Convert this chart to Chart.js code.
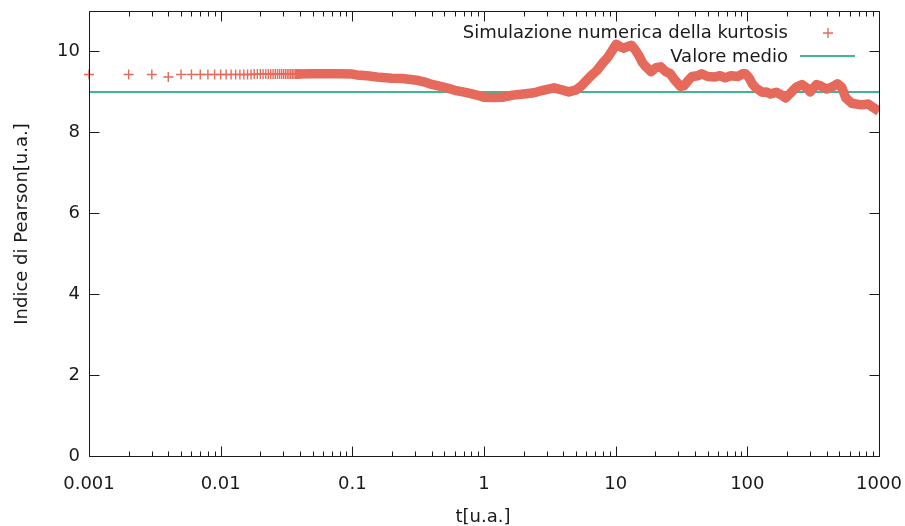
<!DOCTYPE html>
<html>
<head>
<meta charset="utf-8">
<script src="https://cdn.jsdelivr.net/npm/chart.js@4/dist/chart.umd.min.js"></script>
<style>
  html, body { margin: 0; padding: 0; background: #fff; }
  #chart { display: block; }
</style>
</head>
<body>
<canvas id="chart" width="905" height="526"></canvas>
<script>
// punti singoli all'inizio (t = 0.001 ... 0.040)
const sparseT = [0.001, 0.002, 0.003, 0.004, 0.005, 0.006, 0.007, 0.008, 0.009, 0.010,
  0.011, 0.012, 0.013, 0.014, 0.015, 0.016, 0.017, 0.018, 0.019, 0.020,
  0.021, 0.022, 0.023, 0.024, 0.025, 0.026, 0.027, 0.028, 0.029, 0.030,
  0.031, 0.032, 0.033, 0.034, 0.035, 0.036, 0.037, 0.038, 0.039, 0.040];
const sparseY = [9.43, 9.43, 9.43, 9.37, 9.43, 9.43, 9.43, 9.43, 9.43, 9.43,
  9.43, 9.43, 9.43, 9.43, 9.43, 9.43, 9.43, 9.44, 9.44, 9.44,
  9.44, 9.44, 9.44, 9.44, 9.44, 9.44, 9.44, 9.44, 9.44, 9.44,
  9.44, 9.44, 9.44, 9.44, 9.44, 9.44, 9.44, 9.44, 9.44, 9.44];

// parte densa della simulazione
const denseT = [0.037, 0.05, 0.08, 0.1, 0.108, 0.13, 0.161, 0.2, 0.24, 0.308,
  0.35, 0.387, 0.45, 0.52, 0.6, 0.74, 0.93, 1.0, 1.2, 1.4,
  1.65, 2.0, 2.4, 2.8, 3.4, 3.9, 4.4, 5.0, 5.5, 6.0,
  6.5, 7.2, 8.0, 8.7, 9.4, 10.1, 10.8, 11.5, 12.3, 13.2,
  14, 15, 16, 17, 18.6, 20.3, 22, 24, 26, 28,
  31, 33, 36, 38, 42, 45, 50, 57, 62, 68,
  75, 85, 92, 97, 103, 109, 116, 130, 140, 150,
  166, 180, 195, 210, 236, 260, 282, 300, 335, 360,
  400, 440, 483, 520, 560, 620, 670, 740, 830, 900,
  980, 1000];
const denseY = [9.44, 9.45, 9.45, 9.44, 9.42, 9.40, 9.36, 9.34, 9.33, 9.29,
  9.25, 9.20, 9.15, 9.10, 9.04, 8.98, 8.90, 8.87, 8.86, 8.87,
  8.92, 8.95, 8.98, 9.04, 9.10, 9.05, 9.00, 9.05, 9.15, 9.28,
  9.40, 9.53, 9.72, 9.85, 10.02, 10.18, 10.12, 10.08, 10.12, 10.15,
  10.05, 9.90, 9.72, 9.62, 9.50, 9.60, 9.62, 9.50, 9.45, 9.30,
  9.14, 9.15, 9.30, 9.38, 9.40, 9.45, 9.38, 9.37, 9.40, 9.35,
  9.40, 9.38, 9.45, 9.45, 9.35, 9.20, 9.10, 8.99, 9.00, 8.95,
  8.99, 8.93, 8.85, 8.95, 9.12, 9.18, 9.10, 9.00, 9.18, 9.15,
  9.07, 9.12, 9.20, 9.12, 8.85, 8.72, 8.70, 8.68, 8.70, 8.62,
  8.54, 8.52];

const meanT = [0.001, 1000];
const meanY = [9.0, 9.0];

const xTickValues = [0.001, 0.01, 0.1, 1, 10, 100, 1000];
const xTickLabels = ["0.001", "0.01", "0.1", "1", "10", "100", "1000"];
const yTickValues = [0, 2, 4, 6, 8, 10];
const yTickLabels = ["0", "2", "4", "6", "8", "10"];

const SERIES_SIM = "Simulazione numerica della kurtosis";
const SERIES_MEAN = "Valore medio";
const X_TITLE = "t[u.a.]";
const Y_TITLE = "Indice di Pearson[u.a.]";

const RED = "#e66a5b";
const GREEN = "#009e73";
const INK = "#1a1a1a";
const FONT = '18px "DejaVu Sans", sans-serif';

function toPoints(xs, ys) {
  return xs.map((x, i) => ({ x: x, y: ys[i] }));
}

// bordo, tacche interne, legenda e titoli degli assi alla maniera di gnuplot
const gnuplotFrame = {
  id: "gnuplotFrame",
  afterDraw(chart) {
    const ctx = chart.ctx;
    const a = chart.chartArea;
    const xs = chart.scales.x;
    const ys = chart.scales.y;
    const L = Math.round(a.left) + 0.5, R = Math.round(a.right) + 0.5;
    const T = Math.round(a.top) + 0.5, B = Math.round(a.bottom) + 0.5;

    ctx.save();
    ctx.strokeStyle = INK;
    ctx.lineWidth = 1;
    ctx.beginPath();
    ctx.rect(L, T, R - L, B - T);

    yTickValues.forEach((v) => {
      const p = Math.round(ys.getPixelForValue(v)) + 0.5;
      ctx.moveTo(L, p); ctx.lineTo(L + 10, p);
      ctx.moveTo(R, p); ctx.lineTo(R - 10, p);
    });
    xTickValues.forEach((v, i) => {
      const p = Math.round(xs.getPixelForValue(v)) + 0.5;
      ctx.moveTo(p, B); ctx.lineTo(p, B - 10);
      ctx.moveTo(p, T); ctx.lineTo(p, T + 10);
      if (i < xTickValues.length - 1) {
        for (let m = 2; m <= 9; m++) {
          const q = Math.round(xs.getPixelForValue(v * m)) + 0.5;
          ctx.moveTo(q, B); ctx.lineTo(q, B - 5);
          ctx.moveTo(q, T); ctx.lineTo(q, T + 5);
        }
      }
    });
    ctx.stroke();

    // legenda
    ctx.font = FONT;
    ctx.fillStyle = INK;
    ctx.textAlign = "right";
    ctx.textBaseline = "middle";
    ctx.fillText(SERIES_SIM, 788, 33);
    ctx.fillText(SERIES_MEAN, 788, 57);

    ctx.strokeStyle = RED;
    ctx.lineWidth = 1.4;
    ctx.beginPath();
    ctx.moveTo(823, 33); ctx.lineTo(833, 33);
    ctx.moveTo(828, 28); ctx.lineTo(828, 38);
    ctx.stroke();

    ctx.strokeStyle = GREEN;
    ctx.lineWidth = 1.5;
    ctx.beginPath();
    ctx.moveTo(800, 56); ctx.lineTo(855, 56);
    ctx.stroke();

    // titoli assi
    ctx.fillStyle = INK;
    ctx.textAlign = "center";
    ctx.fillText(X_TITLE, 483, 517);
    ctx.translate(22, 224);
    ctx.rotate(-Math.PI / 2);
    ctx.fillText(Y_TITLE, 0, 0);
    ctx.restore();
  },
};

new Chart(document.getElementById("chart"), {
  type: "scatter",
  data: {
    datasets: [
      {
        label: SERIES_SIM,
        data: toPoints(denseT, denseY),
        showLine: true,
        borderColor: RED,
        borderWidth: 9.5,
        borderCapStyle: "butt",
        borderJoinStyle: "round",
        pointRadius: 0,
        pointHoverRadius: 0,
      },
      {
        label: SERIES_SIM,
        data: toPoints(sparseT, sparseY),
        showLine: false,
        pointStyle: "cross",
        pointRadius: 5,
        borderColor: RED,
        backgroundColor: RED,
        pointBorderWidth: 1.4,
        clip: false,
      },
      {
        label: SERIES_MEAN,
        data: toPoints(meanT, meanY),
        showLine: true,
        borderColor: GREEN,
        borderWidth: 1.5,
        pointRadius: 0,
        pointHoverRadius: 0,
      },
    ],
  },
  options: {
    responsive: false,
    animation: false,
    layout: { padding: { top: 11, right: 26, left: 0, bottom: 0 } },
    plugins: {
      legend: { display: false },
      tooltip: { enabled: false },
    },
    scales: {
      x: {
        type: "logarithmic",
        min: 0.001,
        max: 1000,
        afterBuildTicks: (scale) => {
          scale.ticks = xTickValues.map((v) => ({ value: v }));
        },
        afterFit: (scale) => {
          scale.height = 70;
          scale.paddingLeft = 0;
          scale.paddingRight = 0;
        },
        grid: { display: false, drawTicks: false },
        border: { display: false },
        ticks: {
          autoSkip: false,
          maxRotation: 0,
          padding: 18,
          color: INK,
          font: { family: '"DejaVu Sans", sans-serif', size: 18 },
          callback: (value, index) => xTickLabels[index],
        },
      },
      y: {
        min: 0,
        max: 11,
        afterBuildTicks: (scale) => {
          scale.ticks = yTickValues.map((v) => ({ value: v }));
        },
        afterFit: (scale) => {
          scale.width = 89;
          scale.paddingTop = 0;
          scale.paddingBottom = 0;
        },
        grid: { display: false, drawTicks: false },
        border: { display: false },
        ticks: {
          padding: 9,
          color: INK,
          font: { family: '"DejaVu Sans", sans-serif', size: 18 },
          callback: (value, index) => yTickLabels[index],
        },
      },
    },
  },
  plugins: [gnuplotFrame],
});
</script>
</body>
</html>
